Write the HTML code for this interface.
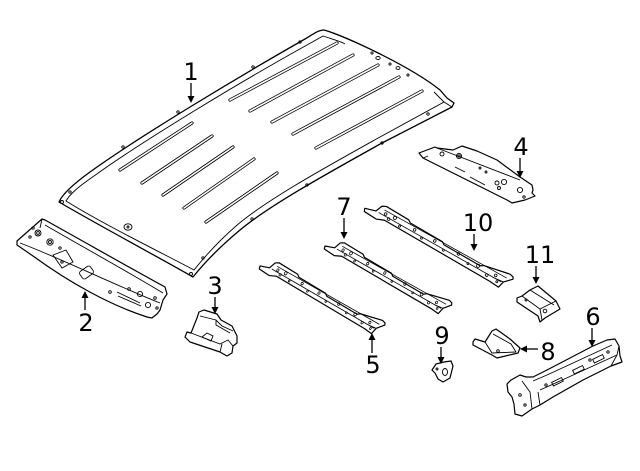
<!DOCTYPE html>
<html><head><meta charset="utf-8"><style>
html,body{margin:0;padding:0;background:#fff;}
svg{display:block;}
text{font-family:"DejaVu Sans","Liberation Sans",sans-serif;font-size:24px;fill:#000;text-anchor:middle;}
</style></head><body>
<svg width="640" height="471" viewBox="0 0 640 471" xmlns="http://www.w3.org/2000/svg">
<defs>
<g id="rail">
<path d="M-8,14 L-9,11 L2,8 L5,1 L9,-1 L35,0 L38,2 L75,3 L78,5 L120,6 L123,4 L150,-1 L154,0 L155,2 L148,9 L146,16 L136,15 L14,12 L6,15 Z" fill="#fff" stroke="#000" stroke-width="1.2" vector-effect="non-scaling-stroke" stroke-linejoin="round"/>
<path d="M5,8 L146,10 M9,3 L149,4 M148,9 L136,10" fill="none" stroke="#000" stroke-width="0.8" vector-effect="non-scaling-stroke"/>
<g fill="none" stroke="#000" stroke-width="0.8" vector-effect="non-scaling-stroke">
<circle cx="12" cy="6" r="1.3"/><circle cx="17" cy="9" r="1.3"/><circle cx="22" cy="5" r="1.6"/><circle cx="30" cy="10" r="1"/>
<circle cx="45" cy="6" r="1.3"/><circle cx="55" cy="10" r="1"/><circle cx="68" cy="6" r="1.3"/><circle cx="80" cy="10" r="1"/>
<circle cx="95" cy="6" r="1.3"/><circle cx="108" cy="10" r="1"/><circle cx="118" cy="7" r="1.6"/><circle cx="130" cy="11" r="1.3"/>
<circle cx="138" cy="7" r="1.3"/><circle cx="142" cy="12" r="1"/>
</g>
</g>
</defs>

<!-- Part 1 roof -->
<path d="M59,202 C62,195 72,185 90,172 C140,136 240,76 305,39 C312,35 318,30 324,30 C345,36 410,66 440,90 L447,98 L454,103 L452,107 L382,143 C330,172 270,205 240,230 C222,245 205,262 193,277 C160,258 100,226 59,202 Z" fill="#fff" stroke="#000" stroke-width="1.3" stroke-linejoin="round"/>
<path d="M434,92 L444,102 L380,137 C328,166 266,200 236,226 C220,240 206,255 194,270 C160,252 103,224 66,201 C70,194 78,187 94,176 C144,140 242,81 307,45 L323,36 C335,40 342,42 345,44" fill="none" stroke="#000" stroke-width="0.9"/>
<path d="M444,102 L452,107" stroke="#000" stroke-width="0.9"/>
<g stroke="#000" stroke-width="3.2" stroke-linecap="round">
<path d="M337,43 L230,100 M192,123 L120,170 M353,55 L250,111 M212,136 L142,183 M378,65 L272,122 M233,147 L163,195 M399,77 L293,134 M254,159 L184,208 M422,91 L316,148 M277,173 L206,222"/>
</g>
<g stroke="#fff" stroke-width="1.6" stroke-linecap="round">
<path d="M337,43 L230,100 M192,123 L120,170 M353,55 L250,111 M212,136 L142,183 M378,65 L272,122 M233,147 L163,195 M399,77 L293,134 M254,159 L184,208 M422,91 L316,148 M277,173 L206,222"/>
</g>
<g fill="none" stroke="#000" stroke-width="0.9">
<ellipse cx="128" cy="227" rx="4" ry="3.2"/><circle cx="128" cy="227" r="1"/>
<circle cx="178" cy="112" r="1.2"/><circle cx="253" cy="67" r="1.2"/><circle cx="300" cy="42" r="1.2"/>
<circle cx="372" cy="53" r="1.1"/><circle cx="390" cy="64" r="1.1"/><ellipse cx="398" cy="68" rx="2" ry="1.4"/><circle cx="408" cy="75" r="1.1"/>
<ellipse cx="378" cy="58" rx="2.2" ry="1.5"/>
<circle cx="428" cy="114" r="1.2"/><circle cx="382" cy="143" r="1.2"/><circle cx="307" cy="185" r="1.2"/>
<circle cx="252" cy="219" r="1.2"/><circle cx="203" cy="258" r="1.2"/><circle cx="123" cy="147" r="1.2"/><circle cx="70" cy="192" r="1.2"/>
<circle cx="62" cy="202" r="1.5"/><circle cx="191" cy="274" r="1.5"/>
</g>

<!-- Part 2 -->
<path d="M17,241 L42,219 L45,220 C90,245 130,268 165,287 L167,294 L163,300 L160,310 L157,314 L152,318 L147,317 C110,305 70,283 33,256 L17,245 Z" fill="#fff" stroke="#000" stroke-width="1.2" stroke-linejoin="round"/>
<g fill="none" stroke="#000" stroke-width="0.9">
<path d="M45,225 C90,251 130,273 163,293"/>
<path d="M20,243 C60,258 110,283 160,303"/>
<path d="M42,219 L40,228"/>
<path d="M53,255 L66,250 L73,262 L62,268 Z"/>
<path d="M117,292 L140,303 M118,296 L141,306"/>
<rect x="82" y="266" width="9" height="13" rx="2.5" transform="rotate(55 86.5 272.5)"/>
<circle cx="38" cy="233" r="3"/><circle cx="38" cy="233" r="1.4"/>
<circle cx="50" cy="242" r="3.2"/><circle cx="50" cy="242" r="1.5"/>
<circle cx="30" cy="237" r="1.2"/><circle cx="33" cy="228" r="1.2"/><circle cx="60" cy="248" r="1.2"/><circle cx="62" cy="262" r="1.2"/>
<circle cx="110" cy="292" r="1.3"/><circle cx="129" cy="289" r="1.3"/>
<circle cx="140" cy="294" r="2.6"/><circle cx="148" cy="305" r="2.6"/><circle cx="155" cy="298" r="1.3"/><circle cx="157" cy="308" r="1.2"/>
</g>

<!-- Part 3 -->
<path d="M197,318 L199,312 L204,310 L217,314 L221,320 L232,326 L237,336 L237,343 L233,346 L232,353 L227,356 L220,352 L190,342 L185,337 L187,332 L191,333 Z" fill="#fff" stroke="#000" stroke-width="1.2" stroke-linejoin="round"/>
<g fill="none" stroke="#000" stroke-width="0.9">
<path d="M200,316 L216,320 L222,326 L233,331 M191,333 L220,344 L228,340 L233,346 M220,352 L222,344 M216,320 L216,325 L230,333"/>
<path d="M202,337 L207,333 L213,336 L211,341 Z"/>
</g>

<!-- Part 4 -->
<path d="M419,153 L435,147 L437,148 L453,150 L462,146 L477,151 L497,160 L520,177 L532,185 L533,190 L532,193 L535,196 L525,200 L512,203 L507,200 L423,158 Z" fill="#fff" stroke="#000" stroke-width="1.2" stroke-linejoin="round"/>
<g fill="none" stroke="#000" stroke-width="0.9">
<path d="M423,158 L428,156 M437,148 L520,180 M455,167 L465,172 M470,177 L485,185"/>
<circle cx="442" cy="154" r="2"/><circle cx="459" cy="156" r="2.6"/><circle cx="459" cy="156" r="1.2"/>
<circle cx="480" cy="168" r="1"/><circle cx="486" cy="172" r="1"/>
<circle cx="497" cy="183" r="2"/><circle cx="504" cy="182" r="2.6"/><circle cx="499" cy="188" r="1.5"/>
<circle cx="520" cy="190" r="2.6"/><circle cx="524" cy="197" r="1.2"/>
</g>

<!-- Rails 10, 7, 5 -->
<use href="#rail" transform="translate(378,203) rotate(28.7)"/>
<use href="#rail" transform="translate(337,240) rotate(28.7) scale(0.85,1)"/>
<use href="#rail" transform="translate(272,260) rotate(29.1) scale(0.84,1)"/>

<!-- Part 11 -->
<path d="M517,298 L522,296 L530,290 L538,286 L556,301 L560,309 L545,318 L540,322 L538,316 L517,302 Z" fill="#fff" stroke="#000" stroke-width="1.2" stroke-linejoin="round"/>
<g fill="none" stroke="#000" stroke-width="0.9">
<path d="M522,296 L540,309 L542,320 M530,290 L554,305 M540,309 L556,301"/>
<circle cx="545" cy="311" r="1.8"/><circle cx="526" cy="300" r="1"/>
</g>

<!-- Part 8 -->
<path d="M473,342 L475,339 L485,342 L492,331 L496,329 L510,339 L520,348 L518,353 L497,358 L492,355 L473,345 Z" fill="#fff" stroke="#000" stroke-width="1.2" stroke-linejoin="round"/>
<g fill="none" stroke="#000" stroke-width="0.9">
<path d="M493,334 L511,344 L516,352 M485,342 L492,353 L516,352"/>
<circle cx="498" cy="351" r="1.3"/>
</g>

<!-- Part 9 -->
<path d="M436,364 L444,362 L451,361 L453,366 L450,378 L443,382 L438,379 L435,373 L432,370 Z" fill="#fff" stroke="#000" stroke-width="1.2" stroke-linejoin="round"/>
<g fill="none" stroke="#000" stroke-width="0.9">
<ellipse cx="445" cy="372" rx="2.5" ry="3.5"/><circle cx="437" cy="369" r="1"/>
</g>

<!-- Part 6 -->
<path d="M607,340 L615,339 L619,346 L620,356 L622,362 L611,366 L583,380 L553,397 L540,405 L532,409 L522,416 L515,414 L514,404 L512,397 L508,392 L507,384 L511,380 L520,375 L526,377 L533,377 L547,370 L593,346 Z" fill="#fff" stroke="#000" stroke-width="1.2" stroke-linejoin="round"/>
<g fill="none" stroke="#000" stroke-width="0.9">
<path d="M533,381 L547,375 L612,345 M540,390 L560,381 L617,355 M611,366 L617,355 L619,346 M540,405 L538,392 M522,381 L530,392 L532,409"/>
<rect x="552" y="380" width="11" height="4" transform="rotate(-26 557 382)"/>
<rect x="573" y="368" width="11" height="4" transform="rotate(-26 578 370)"/>
<rect x="593" y="357" width="11" height="4" transform="rotate(-26 598 359)"/>
<circle cx="520" cy="395" r="1.3"/><circle cx="525" cy="405" r="1.2"/><circle cx="546" cy="385" r="1.2"/>
<circle cx="590" cy="360" r="1.2"/><circle cx="608" cy="352" r="1.2"/>
</g>

<!-- Arrows -->
<g stroke="#000" stroke-width="1.3" fill="none">
<path d="M191,83 L191,97"/>
<path d="M85,310 L85,297"/>
<path d="M215,297 L215,308"/>
<path d="M520,158 L520,172"/>
<path d="M372,353 L372,339"/>
<path d="M592,328 L592,341"/>
<path d="M344,218 L344,233"/>
<path d="M538,349 L526,349"/>
<path d="M441,347 L441,358"/>
<path d="M474,234 L474,245"/>
<path d="M536,266 L536,278"/>
</g>
<g fill="#000">
<path d="M187.5,96 L194.5,96 L191,103 Z"/>
<path d="M81.5,298 L88.5,298 L85,291 Z"/>
<path d="M211.5,307 L218.5,307 L215,314 Z"/>
<path d="M516.5,171 L523.5,171 L520,178 Z"/>
<path d="M368.5,340 L375.5,340 L372,333 Z"/>
<path d="M588.5,340 L595.5,340 L592,347 Z"/>
<path d="M340.5,232 L347.5,232 L344,239 Z"/>
<path d="M527,345.5 L527,352.5 L520,349 Z"/>
<path d="M437.5,357 L444.5,357 L441,364 Z"/>
<path d="M470.5,244 L477.5,244 L474,251 Z"/>
<path d="M532.5,277 L539.5,277 L536,284 Z"/>
</g>

<!-- Labels -->
<text x="191" y="80">1</text>
<text x="86" y="331">2</text>
<text x="215" y="294">3</text>
<text x="521" y="155">4</text>
<text x="373" y="373">5</text>
<text x="593" y="325">6</text>
<text x="344" y="215">7</text>
<text x="548" y="360">8</text>
<text x="442" y="344">9</text>
<text x="478" y="231">10</text>
<text x="540" y="263">11</text>
</svg>
</body></html>
